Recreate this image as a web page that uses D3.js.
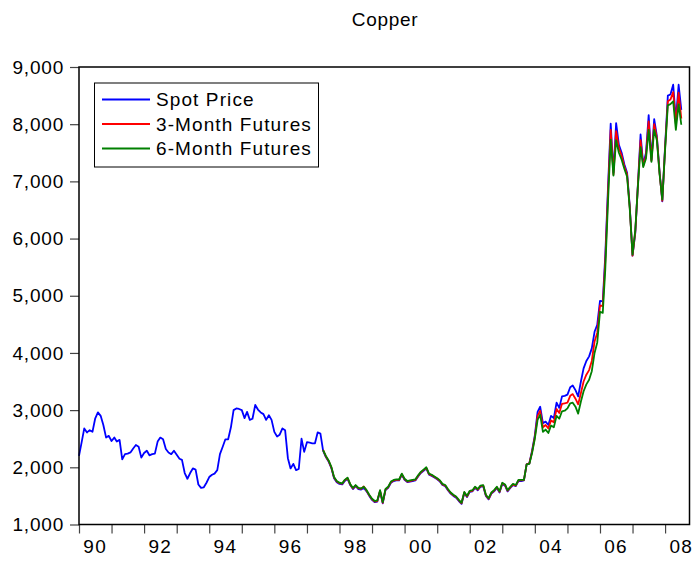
<!DOCTYPE html>
<html>
<head>
<meta charset="utf-8">
<script src="https://cdn.jsdelivr.net/npm/d3@7"></script>
<style>
  body { margin: 0; background: #fff; }
  text { font-family: "Liberation Sans", Arial, sans-serif; }
</style>
</head>
<body>
<div id="chart"></div>
<script>
// monthly copper prices, spot starts 1990M01, futures start 1997M07
const spotStart = new Date(1990, 0, 1)
const futStart = new Date(1997, 6, 1)

const spotPrice = [
  2200, 2450, 2680, 2610, 2650, 2620, 2850, 2960, 2900, 2740,
  2520, 2550, 2460, 2520, 2450, 2480, 2140, 2230, 2240, 2260,
  2330, 2390, 2360, 2170, 2250, 2290, 2210, 2230, 2240, 2450,
  2520, 2490, 2320, 2260, 2230, 2290, 2220, 2150, 2130, 1900,
  1800, 1900, 1980, 1960, 1700, 1640, 1650, 1730, 1830, 1870,
  1890, 1950, 2230, 2360, 2490, 2490, 2700, 3000, 3030, 3020,
  3000, 2860, 2970, 2830, 2850, 3090, 3010, 2960, 2930, 2830,
  2910, 2830, 2620, 2540, 2570, 2680, 2650, 2160, 1980, 2060,
  1950, 1970, 2500, 2270, 2440, 2430, 2420, 2420, 2610, 2590,
  2290, 2180, 2100, 1990, 1810, 1740, 1710, 1700, 1760, 1800,
  1690, 1620, 1670, 1620, 1610, 1640, 1580, 1500, 1430, 1390,
  1400, 1580, 1370, 1600, 1640, 1730, 1760, 1770, 1770, 1870,
  1780, 1740, 1750, 1760, 1770, 1840, 1900, 1940, 1980, 1870,
  1850, 1820, 1790, 1750, 1690, 1670, 1600, 1540, 1500, 1470,
  1410, 1360, 1550, 1480, 1570, 1580, 1640, 1600, 1660, 1670,
  1500, 1440, 1540, 1580, 1640, 1560, 1710, 1680, 1580, 1640,
  1690, 1670, 1760, 1760, 1770, 2050, 2070, 2290, 2560, 2970,
  3060, 2770, 2800, 2740, 2900, 2860, 3130, 3040, 3240, 3250,
  3270, 3400, 3430, 3350, 3240, 3500, 3730, 3860, 3940, 4080,
  4370, 4490, 4910, 4900, 5700, 6900, 8010, 7150, 8020, 7640,
  7500, 7300, 7150, 6560, 5700, 6100, 6910, 7820, 7290, 7500,
  8160, 7380, 8090, 7790, 7150, 6650, 7610, 8500, 8520, 8690,
  8080, 8690, 8250
]

const futures3m = [
  2305, 2190, 2110, 2000, 1820, 1750, 1720, 1715, 1775, 1810,
  1700, 1630, 1680, 1630, 1625, 1665, 1590, 1510, 1440, 1400,
  1410, 1590, 1380, 1610, 1650, 1740, 1770, 1780, 1780, 1880,
  1790, 1750, 1760, 1770, 1780, 1850, 1910, 1950, 1990, 1880,
  1860, 1830, 1800, 1760, 1700, 1680, 1610, 1550, 1510, 1480,
  1420, 1370, 1560, 1490, 1580, 1590, 1650, 1610, 1670, 1680,
  1510, 1450, 1550, 1590, 1650, 1570, 1720, 1690, 1590, 1650,
  1700, 1680, 1770, 1770, 1775, 2050, 2070, 2270, 2530, 2900,
  2990, 2700, 2740, 2680, 2820, 2790, 3020, 2950, 3110, 3120,
  3130, 3250, 3280, 3200, 3100, 3300, 3500, 3620, 3700, 3860,
  4200, 4350, 4830, 4820, 5600, 6800, 7900, 7120, 7880, 7580,
  7450, 7260, 7120, 6540, 5700, 6120, 6900, 7720, 7270, 7450,
  8050, 7360, 8000, 7760, 7130, 6660, 7580, 8400, 8430, 8560,
  8000, 8550, 8100
]

const futures6m = [
  2300, 2200, 2120, 2010, 1830, 1760, 1730, 1720, 1780, 1820,
  1710, 1640, 1690, 1640, 1630, 1660, 1600, 1520, 1450, 1410,
  1420, 1600, 1390, 1620, 1660, 1750, 1780, 1790, 1790, 1890,
  1800, 1760, 1770, 1780, 1790, 1860, 1920, 1960, 2000, 1890,
  1870, 1840, 1810, 1770, 1710, 1690, 1620, 1560, 1520, 1490,
  1430, 1380, 1570, 1500, 1590, 1600, 1660, 1620, 1680, 1690,
  1520, 1460, 1560, 1600, 1660, 1580, 1730, 1700, 1600, 1660,
  1710, 1690, 1780, 1780, 1780, 2050, 2060, 2250, 2500, 2830,
  2920, 2620, 2660, 2600, 2730, 2700, 2900, 2850, 2980, 2990,
  3030, 3120, 3130, 3060, 2940, 3150, 3330, 3450, 3530, 3680,
  4000, 4180, 4720, 4700, 5450, 6650, 7730, 7100, 7720, 7500,
  7380, 7220, 7080, 6520, 5720, 6150, 6880, 7600, 7250, 7400,
  7900, 7340, 7900, 7720, 7120, 6680, 7550, 8330, 8350, 8400,
  7900, 8350, 7990
]

const seriesNames = ['Spot Price', '3-Month Futures', '6-Month Futures']
const seriesColors = ['#0000ff', '#ff0000', '#008000']
const yTicks = [1000, 2000, 3000, 4000, 5000, 6000, 7000, 8000, 9000]
const yearLabels = ['90', '92', '94', '96', '98', '00', '02', '04', '06', '08']

const svgWidth = 694
const svgHeight = 562
const plotLeft = 79, plotRight = 689.5, plotTop = 67, plotBottom = 524.5

const svg = d3.select('#chart').append('svg')
  .attr('width', svgWidth)
  .attr('height', svgHeight)

const x = d3.scaleTime()
  .domain([new Date(1990, 0, 1), new Date(2008, 9, 1)])
  .range([plotLeft, plotRight])

const y = d3.scaleLinear()
  .domain([1000, 9000])
  .range([plotBottom, plotTop])

function toPoints(values, start) {
  return values.map((v, i) => ({ date: new Date(start.getFullYear(), start.getMonth() + i, 1), value: v }))
}

const allSeries = [
  toPoints(spotPrice, spotStart),
  toPoints(futures3m, futStart),
  toPoints(futures6m, futStart)
]

// title
svg.append('text')
  .attr('x', 385)
  .attr('y', 26)
  .attr('text-anchor', 'middle')
  .style('font-size', '19px')
  .style('letter-spacing', '0.7px')
  .text('Copper')

// y axis ticks + labels
const yAxis = d3.axisLeft(y)
  .tickValues(yTicks)
  .tickSize(9)
  .tickPadding(6)
  .tickFormat(d3.format(','))

const yAxisGroup = svg.append('g')
  .attr('transform', `translate(${plotLeft},0)`)
  .call(yAxis)
yAxisGroup.select('.domain').remove()
yAxisGroup.selectAll('line').attr('stroke', '#444').attr('stroke-width', 1.2)
yAxisGroup.selectAll('text')
  .style('font-size', '19px')
  .style('letter-spacing', '0.8px')
  .attr('fill', '#000')

// x axis: ticks every year, labels every second year centred mid-year
const xAxis = d3.axisBottom(x)
  .ticks(d3.timeYear.every(1))
  .tickSize(9)
  .tickFormat('')

const xAxisGroup = svg.append('g')
  .attr('transform', `translate(0,${plotBottom})`)
  .call(xAxis)
xAxisGroup.select('.domain').remove()
xAxisGroup.selectAll('line').attr('stroke', '#444').attr('stroke-width', 1.2)

svg.append('g').selectAll('text')
  .data(yearLabels)
  .enter()
  .append('text')
  .attr('x', (d, i) => x(new Date(1990 + i * 2, 6, 1)))
  .attr('y', 553)
  .attr('text-anchor', 'middle')
  .style('font-size', '19px')
  .style('letter-spacing', '1.2px')
  .text(d => d)

// lines
const line = d3.line()
  .x(d => x(d.date))
  .y(d => y(d.value))

svg.append('g').selectAll('path')
  .data(allSeries)
  .enter()
  .append('path')
  .attr('d', line)
  .attr('fill', 'none')
  .attr('stroke', (d, i) => seriesColors[i])
  .attr('stroke-width', 1.8)
  .attr('stroke-linejoin', 'round')

// frame
svg.append('rect')
  .attr('x', plotLeft)
  .attr('y', plotTop)
  .attr('width', plotRight - plotLeft)
  .attr('height', plotBottom - plotTop)
  .attr('fill', 'none')
  .attr('stroke', '#000')
  .attr('stroke-width', 1.5)

// legend
const legendGroup = svg.append('g')
legendGroup.append('rect')
  .attr('x', 94.5)
  .attr('y', 83)
  .attr('width', 224)
  .attr('height', 84)
  .attr('fill', '#fff')
  .attr('stroke', '#000')
  .attr('stroke-width', 1)

const legendRows = legendGroup.selectAll('g.row')
  .data(seriesNames)
  .enter()
  .append('g')
  .attr('class', 'row')
  .attr('transform', (d, i) => `translate(0,${99.5 + i * 24.5})`)

legendRows.append('line')
  .attr('x1', 102)
  .attr('x2', 150)
  .attr('stroke', (d, i) => seriesColors[i])
  .attr('stroke-width', 1.8)

legendRows.append('text')
  .attr('x', 156)
  .attr('y', 6.5)
  .style('font-size', '19px')
  .style('letter-spacing', '1.1px')
  .text(d => d)
</script>
</body>
</html>
